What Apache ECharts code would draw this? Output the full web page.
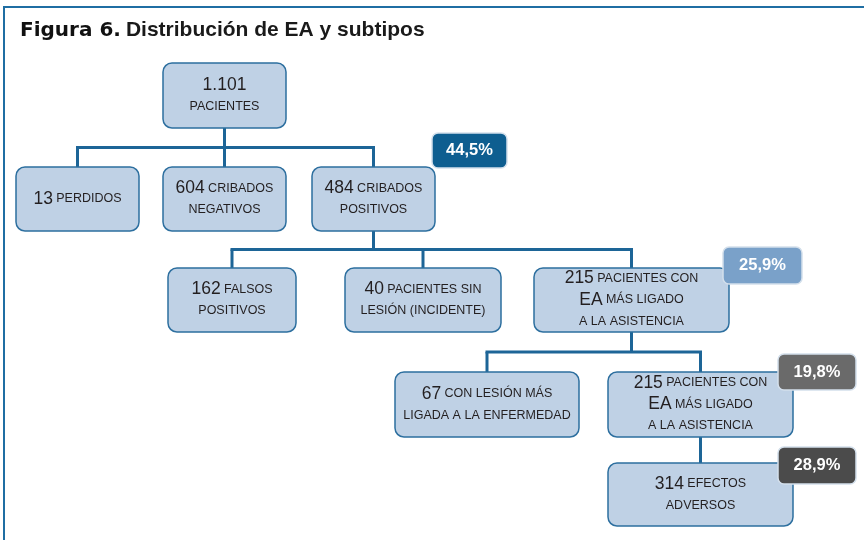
<!DOCTYPE html>
<html lang="es">
<head>
    <meta charset="utf-8">
    <title>Distribución de EA y subtipos</title>
    <script src="https://cdn.jsdelivr.net/npm/echarts@6/dist/echarts.min.js"></script>
    <style>
        html, body { margin: 0; padding: 0; background: #fff; }
        #main { width: 864px; height: 540px; }
    </style>
</head>
<body>
<div id="main"></div>

<script type="text/javascript">

    // datos del diagrama
    var nodeLabels = [
        '{n|1.101}\n{s|PACIENTES}',
        '{n|13} {s|PERDIDOS}',
        '{n|604} {s|CRIBADOS}\n{s|NEGATIVOS}',
        '{n|484} {s|CRIBADOS}\n{s|POSITIVOS}',
        '{n|162} {s|FALSOS}\n{s|POSITIVOS}',
        '{n|40} {s|PACIENTES SIN}\n{s|LESIÓN (INCIDENTE)}',
        '{n|215} {s|PACIENTES CON}\n{n|EA} {s|MÁS LIGADO}\n{s|A LA ASISTENCIA}',
        '{n|67} {s|CON LESIÓN MÁS}\n{s|LIGADA A LA ENFERMEDAD}',
        '{n|215} {s|PACIENTES CON}\n{n|EA} {s|MÁS LIGADO}\n{s|A LA ASISTENCIA}',
        '{n|314} {s|EFECTOS}\n{s|ADVERSOS}'
    ];
    var nodeParent = [-1, 0, 0, 0, 3, 3, 3, 6, 6, 8];

    var badgeNode = [3, 6, 8, 9];
    var badgeText = ['44,5%', '25,9%', '19,8%', '28,9%'];

    // disposición (x0, y0, x1, y1) en unidades del eje
    var boxLayout = [
        [163, 63, 286, 128],
        [16, 167, 139, 231],
        [163, 167, 286, 231],
        [312, 167, 435, 231],
        [168, 268, 296, 332],
        [345, 268, 501, 332],
        [534, 268, 729, 332],
        [395, 372, 579, 437],
        [608, 372, 793, 437],
        [608, 463, 793, 526]
    ];
    var badgeLayout = [
        [432, 133, 507, 168],
        [723, 247, 802, 284],
        [778, 354, 856, 390],
        [778, 447, 856, 484]
    ];
    var badgeColors = ['#0e5e90', '#7aa1c9', '#6a6a6a', '#4b4b4b'];

    var lineColor = '#1d6597';
    var boxFill = '#bfd1e5';
    var boxStroke = '#2d6f9f';
    var textColor = '#231f20';
    var fontFam = '"Liberation Sans", Arial, sans-serif';

    var childrenOf = {};
    nodeParent.forEach(function (p, i) {
        if (p >= 0) {
            (childrenOf[p] = childrenOf[p] || []).push(i);
        }
    });
    var parents = Object.keys(childrenOf).map(Number);

    function pt(api, x, y) {
        return api.coord([x, y]);
    }

    var myChart = echarts.init(document.getElementById('main'), null, {renderer: 'canvas'});

    myChart.setOption({
        animation: false,
        backgroundColor: '#fff',
        title: {
            left: 15,
            top: 15,
            text: '{a|Figura 6.} {b|Distribución de EA y subtipos}',
            textStyle: {
                rich: {
                    a: {fontFamily: '"DejaVu Sans", sans-serif', fontWeight: 'bold', fontSize: 20, color: '#111'},
                    b: {fontFamily: fontFam, fontWeight: 'bold', fontSize: 21, color: '#1a1a1a'}
                }
            }
        },
        graphic: [
            {type: 'line', shape: {x1: 4, y1: 7, x2: 864, y2: 7}, style: {stroke: '#1f6ea3', lineWidth: 2}},
            {type: 'line', shape: {x1: 4, y1: 6, x2: 4, y2: 540}, style: {stroke: '#1f6ea3', lineWidth: 2}}
        ],
        grid: {left: 0, right: 0, top: 0, bottom: 0},
        xAxis: {type: 'value', min: 0, max: 864, show: false},
        yAxis: {type: 'value', min: 0, max: 540, inverse: true, show: false},
        series: [
            {
                // conectores
                type: 'custom',
                data: parents.map(function (p) { return [p]; }),
                renderItem: function (params, api) {
                    var p = parents[params.dataIndex];
                    var kids = childrenOf[p];
                    var pb = boxLayout[p];
                    var px = (pb[0] + pb[2]) / 2;
                    var kidTop = boxLayout[kids[0]][1];
                    var busY = (pb[3] + kidTop) / 2;
                    var xs = kids.map(function (k) { return (boxLayout[k][0] + boxLayout[k][2]) / 2; });
                    var children = [];
                    var style = {stroke: lineColor, lineWidth: 3, fill: null};
                    if (kids.length === 1) {
                        children.push({type: 'polyline', shape: {points: [pt(api, px, pb[3]), pt(api, px, kidTop)]}, style: style});
                    } else {
                        children.push({type: 'polyline', shape: {points: [pt(api, px, pb[3]), pt(api, px, busY)]}, style: style});
                        children.push({type: 'polyline', shape: {points: [pt(api, Math.min.apply(null, xs) - 1.5, busY), pt(api, Math.max.apply(null, xs) + 1.5, busY)]}, style: style});
                        xs.forEach(function (x, j) {
                            children.push({type: 'polyline', shape: {points: [pt(api, x, busY), pt(api, x, boxLayout[kids[j]][1])]}, style: style});
                        });
                    }
                    return {type: 'group', children: children};
                }
            },
            {
                // cajas
                type: 'custom',
                data: nodeLabels.map(function (t, i) { return [i]; }),
                renderItem: function (params, api) {
                    var b = boxLayout[params.dataIndex];
                    var a = pt(api, b[0], b[1]);
                    var c = pt(api, b[2], b[3]);
                    return {
                        type: 'rect',
                        shape: {x: a[0], y: a[1], width: c[0] - a[0], height: c[1] - a[1], r: 9},
                        style: {fill: boxFill, stroke: boxStroke, lineWidth: 1.5},
                        textContent: {
                            style: {
                                text: nodeLabels[params.dataIndex],
                                align: 'center',
                                verticalAlign: 'middle',
                                fill: textColor,
                                rich: {
                                    n: {fontFamily: fontFam, fontSize: 17.5, lineHeight: 21.5, fill: textColor,
                                        textBorderColor: textColor, textBorderWidth: 0.3},
                                    s: {fontFamily: fontFam, fontSize: 12.5, lineHeight: 21.5, fill: textColor,
                                        textBorderColor: textColor, textBorderWidth: 0.5}
                                }
                            }
                        },
                        textConfig: {position: 'inside'}
                    };
                }
            },
            {
                // porcentajes
                type: 'custom',
                data: badgeText.map(function (t, i) { return [badgeNode[i]]; }),
                renderItem: function (params, api) {
                    var i = params.dataIndex;
                    var b = badgeLayout[i];
                    var a = pt(api, b[0], b[1]);
                    var c = pt(api, b[2], b[3]);
                    return {
                        type: 'rect',
                        shape: {x: a[0], y: a[1], width: c[0] - a[0], height: c[1] - a[1], r: 6},
                        style: {fill: badgeColors[i], stroke: '#d3dfeb', lineWidth: 1.5},
                        textContent: {
                            style: {
                                text: badgeText[i],
                                fill: '#fff',
                                fontFamily: fontFam,
                                fontWeight: 'bold',
                                fontSize: 16.5
                            }
                        },
                        textConfig: {position: 'inside'}
                    };
                }
            }
        ]
    });

</script>
</body>
</html>
